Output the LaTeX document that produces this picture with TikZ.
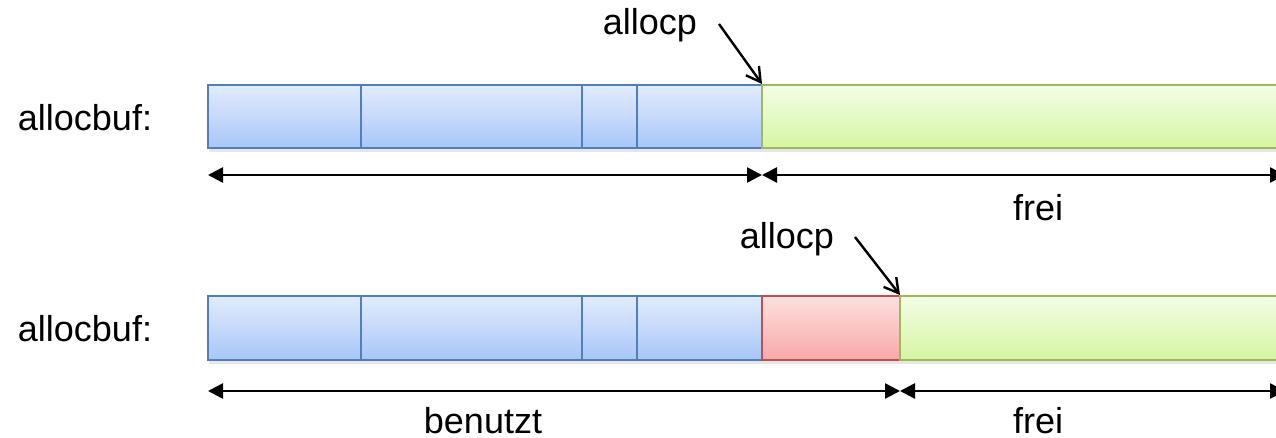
\documentclass[tikz,border=0pt]{standalone}
\usepackage{fontspec}
\setmainfont{Liberation Sans}
\usetikzlibrary{arrows.meta,shadows}
\definecolor{bluetop}{HTML}{E2ECFC}
\definecolor{bluebot}{HTML}{A8C6F8}
\definecolor{blueline}{HTML}{4F7FBD}
\definecolor{greentop}{HTML}{F3FDE6}
\definecolor{greenbot}{HTML}{D6F5A2}
\definecolor{greenline}{HTML}{9BBB59}
\definecolor{redtop}{HTML}{FDE0E0}
\definecolor{redbot}{HTML}{F8A8A8}
\definecolor{redline}{HTML}{C0504D}
\tikzset{
  cell/.style={draw, line width=2pt, top color=#1top, bottom color=#1bot, draw=#1line,
    drop shadow={shadow xshift=1pt, shadow yshift=-4pt, opacity=0.22, fill=black!45}},
  lbl/.style={font=\fontsize{36}{42}\selectfont, inner sep=0pt, anchor=base},
  dim/.style={line width=2.6pt, {Triangle[length=15pt,width=15pt]}-{Triangle[length=15pt,width=15pt]}},
  ptr/.style={line width=2.4pt, -{Straight Barb[length=14pt,width=16pt,line width=2.4pt]}}
}
\begin{document}
\begin{tikzpicture}[x=1pt,y=-1pt]
\useasboundingbox (0,0) rectangle (1276,438);
% row 1
\draw[cell=blue] (208,85) rectangle (361,148);
\draw[cell=blue] (361,85) rectangle (582,148);
\draw[cell=blue] (582,85) rectangle (637,148);
\draw[cell=blue] (637,85) rectangle (762,148);
\draw[cell=green] (762,85) rectangle (1290,148);
\node[lbl] (buf1) at (85,131) {allocbuf:};
\node[lbl] (ap1) at (650,35) {allocp};
\coordinate (p1s) at (719,24);
\coordinate (p1e) at (762,84);
\draw[ptr] (p1s) -- (p1e);
\coordinate (a1l) at (208,175);
\coordinate (a1m) at (762,175);
\coordinate (a1r) at (1285,175);
\draw[dim] (a1l) -- (a1m);
\draw[dim] (a1m) -- (a1r);
\node[lbl] (frei1) at (1038,221) {frei};
% row 2
\draw[cell=blue] (208,296) rectangle (361,360);
\draw[cell=blue] (361,296) rectangle (582,360);
\draw[cell=blue] (582,296) rectangle (637,360);
\draw[cell=blue] (637,296) rectangle (762,360);
\draw[cell=red] (762,296) rectangle (900,360);
\draw[cell=green] (900,296) rectangle (1290,360);
\node[lbl] (buf2) at (85,341) {allocbuf:};
\node[lbl] (ap2) at (787,248) {allocp};
\coordinate (p2s) at (855,237);
\coordinate (p2e) at (900,295);
\draw[ptr] (p2s) -- (p2e);
\coordinate (a2l) at (208,391);
\coordinate (a2m) at (900,391);
\coordinate (a2r) at (1285,391);
\draw[dim] (a2l) -- (a2m);
\draw[dim] (a2m) -- (a2r);
\node[lbl] (ben) at (483,433) {benutzt};
\node[lbl] (frei2) at (1038,433) {frei};
\end{tikzpicture}
\end{document}
